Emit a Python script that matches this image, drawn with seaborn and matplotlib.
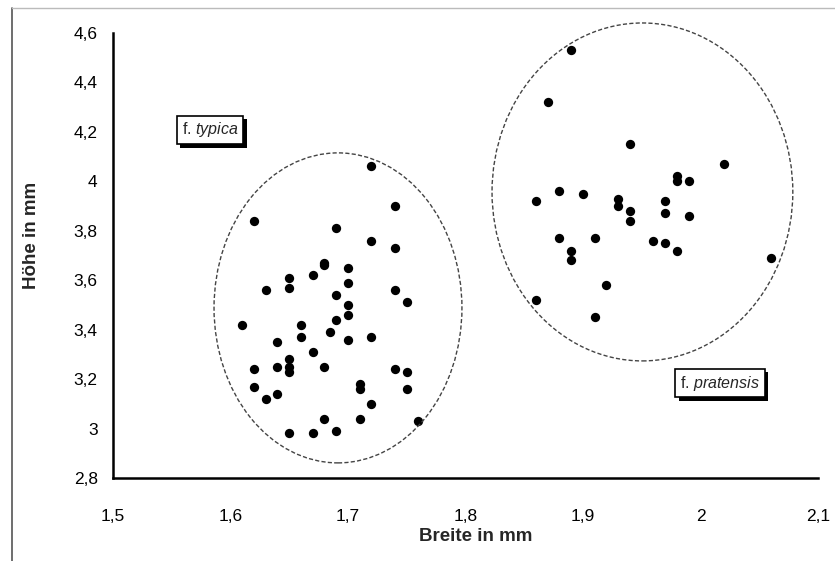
import matplotlib
matplotlib.use("Agg")
import matplotlib.pyplot as plt
import matplotlib.patheffects as pe
from matplotlib.patches import Ellipse
from matplotlib.lines import Line2D
import seaborn as sns
import pandas as pd

# f. typica (left cluster)
typica_breite = [1.72, 1.74, 1.62, 1.69, 1.72, 1.74, 1.68, 1.68, 1.70, 1.67,
                 1.65, 1.70, 1.63, 1.65, 1.74, 1.69, 1.75, 1.70, 1.70, 1.69,
                 1.61, 1.66, 1.685, 1.66, 1.70, 1.72, 1.64, 1.67, 1.65, 1.65,
                 1.65, 1.64, 1.62, 1.68, 1.74, 1.75, 1.62, 1.71, 1.71, 1.75,
                 1.63, 1.64, 1.72, 1.68, 1.71, 1.76, 1.65, 1.67, 1.69]
typica_hoehe = [4.06, 3.90, 3.84, 3.81, 3.76, 3.73, 3.67, 3.66, 3.65, 3.62,
                3.61, 3.59, 3.56, 3.57, 3.56, 3.54, 3.51, 3.50, 3.46, 3.44,
                3.42, 3.42, 3.39, 3.37, 3.36, 3.37, 3.35, 3.31, 3.28, 3.25,
                3.23, 3.25, 3.24, 3.25, 3.24, 3.23, 3.17, 3.18, 3.16, 3.16,
                3.12, 3.14, 3.10, 3.04, 3.04, 3.03, 2.98, 2.98, 2.99]

# f. pratensis (right cluster)
pratensis_breite = [1.89, 1.87, 1.94, 2.02, 1.98, 1.98, 1.99, 1.88, 1.90, 1.86,
                    1.93, 1.93, 1.94, 1.94, 1.97, 1.97, 1.99, 1.88, 1.91, 1.96,
                    1.97, 1.98, 1.89, 1.89, 2.06, 1.92, 1.86, 1.91]
pratensis_hoehe = [4.53, 4.32, 4.15, 4.07, 4.02, 4.00, 4.00, 3.96, 3.95, 3.92,
                   3.93, 3.90, 3.88, 3.84, 3.92, 3.87, 3.86, 3.77, 3.77, 3.76,
                   3.75, 3.72, 3.72, 3.68, 3.69, 3.58, 3.52, 3.45]

x_ticks = [1.5, 1.6, 1.7, 1.8, 1.9, 2.0, 2.1]
x_ticklabels = ["1,5", "1,6", "1,7", "1,8", "1,9", "2", "2,1"]
y_ticks = [2.8, 3.0, 3.2, 3.4, 3.6, 3.8, 4.0, 4.2, 4.4, 4.6]
y_ticklabels = ["2,8", "3", "3,2", "3,4", "3,6", "3,8", "4", "4,2", "4,4", "4,6"]

# group ellipses: centre, width, height (data units)
ellipse_typica = ((1.6915, 3.488), 0.211, 1.254)
ellipse_pratensis = ((1.9506, 3.957), 0.256, 1.367)

df = pd.DataFrame({
    "Breite": typica_breite + pratensis_breite,
    "Hoehe": typica_hoehe + pratensis_hoehe,
})

sns.set_style("white")
plt.rcParams["font.family"] = ["Liberation Sans", "DejaVu Sans"]
plt.rcParams["mathtext.fontset"] = "custom"
plt.rcParams["mathtext.it"] = "Liberation Sans:italic"
plt.rcParams["mathtext.rm"] = "Liberation Sans"

fig = plt.figure(figsize=(8.35, 5.61), dpi=100)
ax = fig.add_axes([0.1353, 0.148, 0.8443, 0.7932])

sns.scatterplot(data=df, x="Breite", y="Hoehe", color="black", s=45,
                linewidth=0, ax=ax, legend=False)

for (c, w, h) in [ellipse_typica, ellipse_pratensis]:
    ax.add_patch(Ellipse(c, w, h, fill=False, edgecolor="#444444",
                         linewidth=1.0, linestyle=(0, (3, 1.6)), clip_on=False))

ax.set_xlim(1.5, 2.1)
ax.set_ylim(2.8, 4.6)
ax.set_xticks(x_ticks)
ax.set_xticklabels(x_ticklabels)
ax.set_yticks(y_ticks)
ax.set_yticklabels(y_ticklabels)
ax.tick_params(direction="inout", length=10, width=1.2, colors="black",
               labelsize=12.5)
ax.tick_params(axis="x", pad=17)
ax.tick_params(axis="y", pad=6)

for side in ["top", "right"]:
    ax.spines[side].set_visible(False)
for side in ["left", "bottom"]:
    ax.spines[side].set_linewidth(1.8)
    ax.spines[side].set_color("black")

ax.set_xlabel("Breite in mm", fontsize=13.5, fontweight="bold")
ax.set_ylabel("Höhe in mm", fontsize=13.5, fontweight="bold")
ax.xaxis.set_label_coords(0.515, -0.113)
ax.yaxis.set_label_coords(-0.1035, 0.546)

box = dict(boxstyle="square,pad=0.3", facecolor="white", edgecolor="black",
           linewidth=1.2)
for label, (tx, ty) in [(r"f. $\mathit{typica}$", (1.5826, 4.208)),
                        (r"f. $\mathit{pratensis}$", (2.0166, 3.184))]:
    t = ax.text(tx, ty, label, fontsize=11.5, ha="center", va="center", bbox=box)
    t.get_bbox_patch().set_path_effects([
        pe.SimplePatchShadow(offset=(2.5, -2.5), shadow_rgbFace="black", alpha=1),
        pe.Normal()])

# scanned page border
fig.add_artist(Line2D([12 / 835, 12 / 835], [0, 1 - 8 / 561],
                      transform=fig.transFigure, color="#555555", linewidth=1.2))
fig.add_artist(Line2D([12 / 835, 1], [1 - 8 / 561, 1 - 8 / 561],
                      transform=fig.transFigure, color="#bbbbbb", linewidth=1.0))

fig.savefig("out.png", dpi=100)
